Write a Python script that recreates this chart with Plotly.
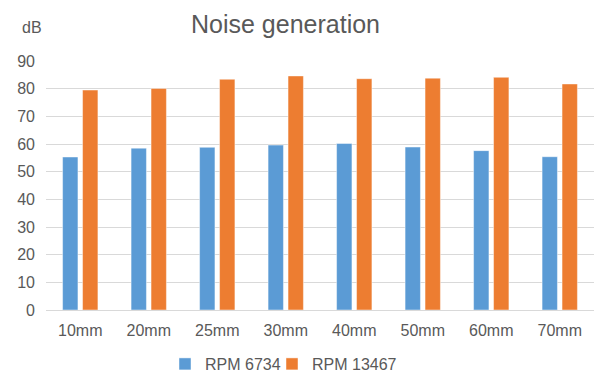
import plotly.graph_objects as go

# Groove length per measurement
categories = ["10mm", "20mm", "25mm", "30mm", "40mm", "50mm", "60mm", "70mm"]

# Measured noise level (dB) at the two spindle speeds
rpm_6734 = [55.3, 58.5, 58.8, 59.6, 60.2, 58.9, 57.6, 55.4]
rpm_13467 = [79.5, 80.1, 83.4, 84.6, 83.6, 83.8, 84.1, 81.7]

series_names = ["RPM 6734", "RPM 13467"]
y_ticks = [0, 10, 20, 30, 40, 50, 60, 70, 80, 90]

FONT = "Liberation Sans, Arial, sans-serif"
TEXT = "#595959"
GRID = "#D9D9D9"
W, H = 597, 376

fig = go.Figure()
fig.add_trace(go.Bar(
    x=categories, y=rpm_6734, name=series_names[0], legend="legend",
    marker=dict(color="#5B9BD5", line=dict(color="rgba(255,255,255,0.45)", width=1)),
))
fig.add_trace(go.Bar(
    x=categories, y=rpm_13467, name=series_names[1], legend="legend2",
    marker=dict(color="#ED7D31", line=dict(color="rgba(255,255,255,0.45)", width=1)),
))

# one legend box per series, laid out side by side under the axis
legend_common = dict(
    orientation="h", xref="container", xanchor="left",
    yref="container", y=1 - 364 / H, yanchor="middle",
    font=dict(family=FONT, size=16, color=TEXT),
    bgcolor="rgba(0,0,0,0)",
)

fig.update_layout(
    width=W, height=H,
    margin=dict(l=46, r=3, t=61, b=66, autoexpand=False),
    paper_bgcolor="white", plot_bgcolor="white",
    font=dict(family=FONT, size=16, color=TEXT),
    barmode="group", bargap=0.417, bargroupgap=0.23,
    showlegend=True,
    title=dict(
        text="Noise generation",
        font=dict(family=FONT, size=25, color=TEXT),
        xref="container", x=285.5 / W, xanchor="center",
        yref="container", y=1 - 24 / H, yanchor="middle",
    ),
    legend=dict(x=165 / W, **legend_common),
    legend2=dict(x=272 / W, **legend_common),
    xaxis=dict(
        showgrid=False, showline=True, linecolor=GRID, linewidth=1,
        ticks="", ticklabelstandoff=6, automargin=False,
        tickfont=dict(size=16, color=TEXT),
    ),
    yaxis=dict(
        range=[0, 90], tickvals=y_ticks, showgrid=True, gridcolor=GRID, gridwidth=1,
        zeroline=True, zerolinecolor=GRID, zerolinewidth=1,
        showline=False, ticks="", ticklabelstandoff=10, automargin=False,
        tickfont=dict(size=16, color=TEXT),
    ),
    annotations=[dict(
        text="dB", xref="paper", yref="paper",
        x=(31.5 - 46) / 548, y=(309.5 - 28) / 248.5,
        xanchor="center", yanchor="middle", showarrow=False,
        font=dict(family=FONT, size=16, color=TEXT),
    )],
)

fig.write_html("out.html")
